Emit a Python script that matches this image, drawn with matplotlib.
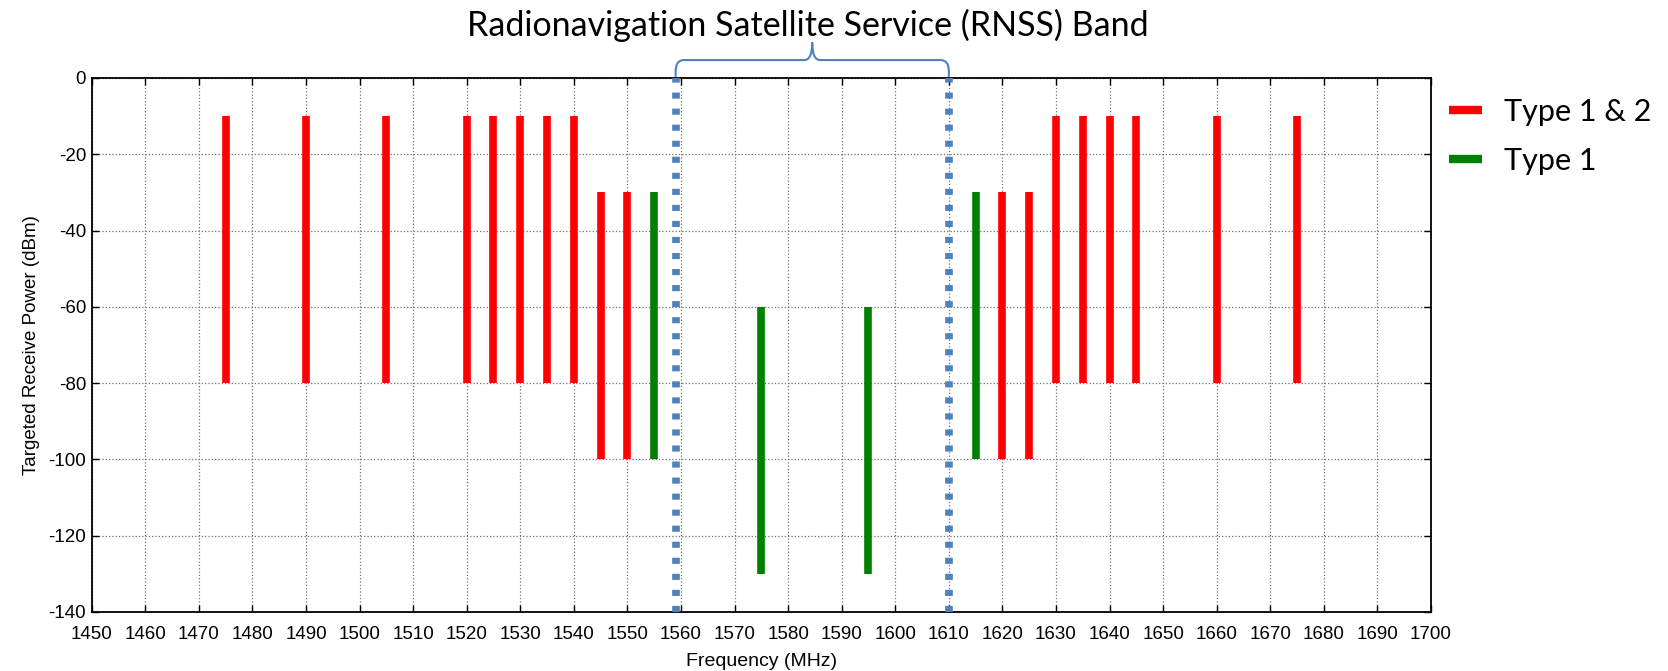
import numpy as np
import matplotlib
matplotlib.use("Agg")
import matplotlib.pyplot as plt
from matplotlib.path import Path
from matplotlib.patches import PathPatch

plt.rcParams["axes.unicode_minus"] = False

# Type 1 & 2 emitters (red)
red_freq = [1475, 1490, 1505, 1520, 1525, 1530, 1535, 1540, 1545, 1550,
            1620, 1625, 1630, 1635, 1640, 1645, 1660, 1675]
red_top = [-10, -10, -10, -10, -10, -10, -10, -10, -30, -30,
           -30, -30, -10, -10, -10, -10, -10, -10]
red_bottom = [-80, -80, -80, -80, -80, -80, -80, -80, -100, -100,
              -100, -100, -80, -80, -80, -80, -80, -80]

# Type 1 emitters (green)
green_freq = [1555, 1575, 1595, 1615]
green_top = [-30, -60, -60, -30]
green_bottom = [-100, -130, -130, -100]

# RNSS band edges
band_edges = [1559, 1610]
title = "Radionavigation Satellite Service (RNSS) Band"

W, H = 1668, 671
fig = plt.figure(figsize=(W / 100, H / 100), dpi=100)
ax = fig.add_axes([91.7 / W, 1 - 612 / H, (1431 - 91.7) / W, (612 - 78) / H])

lw = 5.5
ax.vlines(red_freq, red_bottom, red_top, colors="#ff0000", linewidth=lw,
          label="Type 1 & 2", zorder=3)
ax.vlines(green_freq, green_bottom, green_top, colors="#008000", linewidth=lw,
          label="Type 1", zorder=3)

for xe in band_edges:
    ax.plot([xe, xe], [-140, 0], color="#4f81bd", linewidth=5.5,
            linestyle=(0, (0.8, 1.3)), solid_capstyle="butt",
            dash_capstyle="butt", zorder=4, clip_on=False)

ax.set_xlim(1450, 1700)
ax.set_ylim(-140, 0)
ax.set_xticks(np.arange(1450, 1701, 10))
ax.set_yticks(np.arange(-140, 1, 20))
ax.grid(True, color="#707070", linestyle=":", linewidth=0.9)
ax.tick_params(direction="in", top=True, right=True, length=5, width=1,
               labelsize=13.5)
ax.tick_params(axis="x", pad=10)
ax.tick_params(axis="y", pad=4)
for s in ax.spines.values():
    s.set_linewidth(1.3)
for lab in ax.get_xticklabels() + ax.get_yticklabels():
    lab.set_family("Liberation Sans")

ax.set_xlabel("Frequency (MHz)", fontsize=14, family="Liberation Sans", labelpad=7)
ax.set_ylabel("Targeted Receive Power (dBm)", fontsize=13.5,
              family="Liberation Sans", labelpad=6)

# curly brace above the RNSS band
x0, x1 = band_edges
xm = (x0 + x1) / 2
h, t, dx, dy = 4.7, 4.6, 1.5, 3.0
verts = [(x0, 0.3), (x0, h - dy), (x0, h), (x0 + dx, h),
         (xm - dx, h), (xm, h), (xm, h + t),
         (xm, h), (xm + dx, h),
         (x1 - dx, h), (x1, h), (x1, h - dy), (x1, 0.3)]
codes = [Path.MOVETO, Path.LINETO, Path.CURVE3, Path.CURVE3,
         Path.LINETO, Path.CURVE3, Path.CURVE3,
         Path.CURVE3, Path.CURVE3,
         Path.LINETO, Path.CURVE3, Path.CURVE3, Path.LINETO]
ax.add_patch(PathPatch(Path(verts, codes), fill=False, edgecolor="#4f81bd",
                       linewidth=1.5, clip_on=False))

fig.text(808 / W, 1 - 25 / H, title, fontsize=24.5, family="Lato",
         ha="center", va="center")

leg = fig.legend(loc="upper left", bbox_to_anchor=(1421 / W, 1 - 70 / H),
                 frameon=False, prop={"family": "Lato", "size": 22},
                 handlelength=1.1, handletextpad=0.7, labelspacing=0.7)
for line in leg.get_lines():
    line.set_linewidth(6)
    line.set_solid_capstyle("butt")

fig.savefig("out.png", dpi=100)
